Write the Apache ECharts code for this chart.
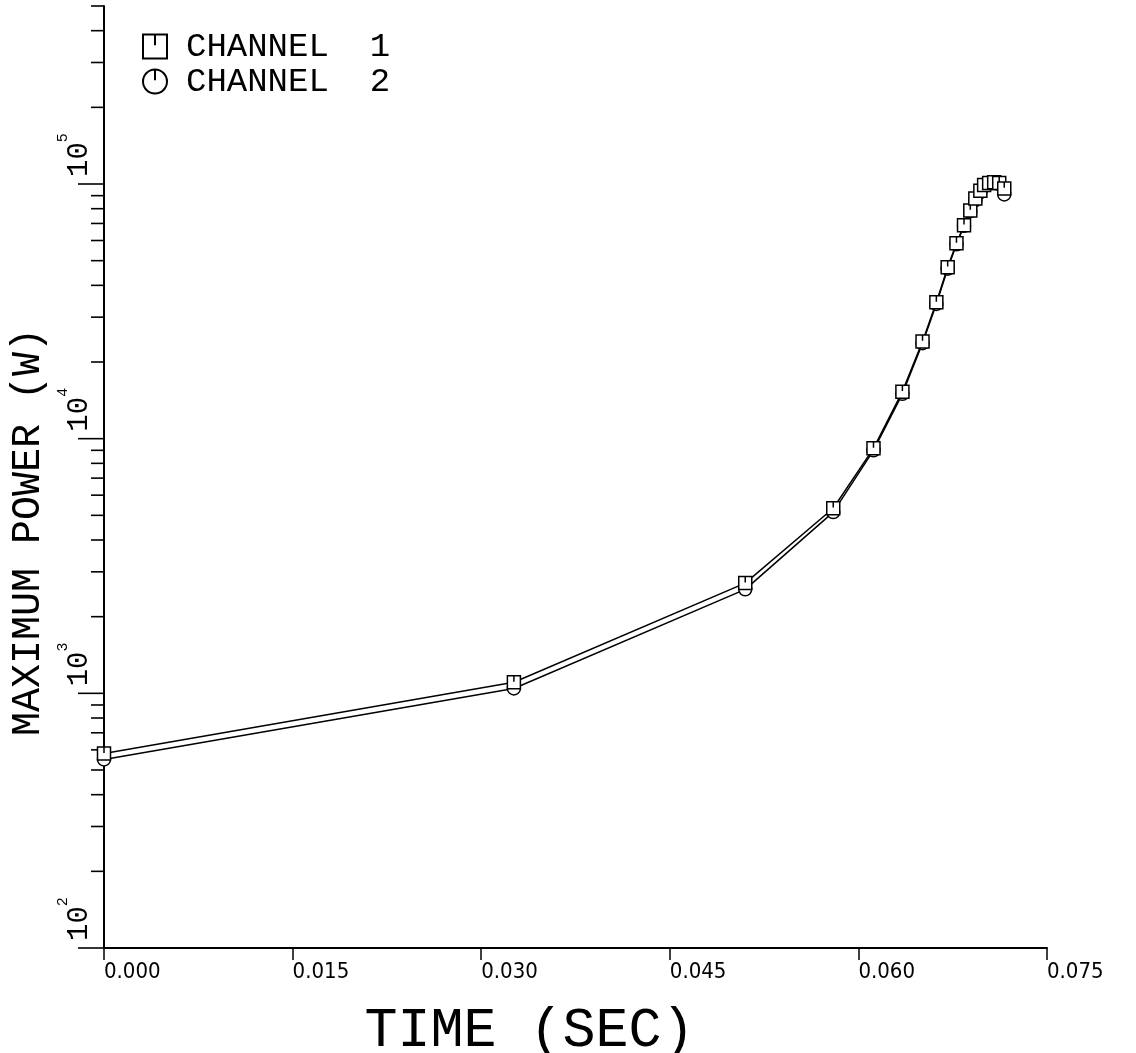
<!DOCTYPE html>
<html><head><meta charset="utf-8">
<script src="https://cdn.jsdelivr.net/npm/echarts@6/dist/echarts.min.js"></script>
<style>html,body{margin:0;padding:0;background:#fff}#c{width:1136px;height:1053px}</style>
</head><body><div id="c"></div>
<script>
// ---- data ----
const timeSec = [0, 0.0326, 0.0510, 0.0580, 0.0612, 0.0635, 0.0651, 0.0662, 0.0671, 0.0678, 0.0684, 0.0689, 0.0693, 0.0697, 0.0700, 0.0704, 0.0708, 0.0712, 0.0716];
const channel1 = [580, 1105, 2710, 5330, 9160, 15300, 24100, 34300, 47100, 58500, 68900, 78700, 87700, 94000, 99000, 101000, 101500, 101000, 96000];
const channel2 = [550, 1045, 2560, 5150, 9000, 15000, 23700, 33800, 46500, 58000, 68500, 78300, 86500, 93000, 98000, 100500, 101000, 100000, 91000];
const seriesNames = ['CHANNEL  1', 'CHANNEL  2'];
const xTickStep = 0.015;
const yMajorTicks = [100, 1000, 10000, 100000];
const yMinorTicks = [200, 300, 400, 500, 600, 700, 800, 900,
  2000, 3000, 4000, 5000, 6000, 7000, 8000, 9000,
  20000, 30000, 40000, 50000, 60000, 70000, 80000, 90000,
  200000, 300000, 400000, 500000];
const xTitle = 'TIME (SEC)';
const yTitle = 'MAXIMUM POWER (W)';

const SQUARE = 'path://M0,0 L10,0 L10,10 L0,10 Z M5,0 L5,4.5';
const CIRCLE = 'path://M5,0 C7.76,0 10,2.24 10,5 C10,7.76 7.76,10 5,10 C2.24,10 0,7.76 0,5 C0,2.24 2.24,0 5,0 Z M5,0 L5,4.5';
const MONO = "'Liberation Mono', 'DejaVu Sans Mono', monospace";
const NARROW = "'Liberation Sans Narrow', 'DejaVu Sans Condensed', sans-serif";

function pairs(xs, ys) { return xs.map((x, i) => [x, ys[i]]); }
function tickRenderer(len) {
  return function (params, api) {
    const p = api.coord([api.value(0), api.value(1)]);
    return { type: 'line', shape: { x1: p[0] - len, y1: p[1], x2: p[0], y2: p[1] },
      style: { stroke: '#000', lineWidth: 1.6 } };
  };
}

const chart = echarts.init(document.getElementById('c'), null, { renderer: 'canvas' });
chart.setOption({
  animation: false,
  backgroundColor: '#fff',
  grid: { left: 104, right: 89, top: 6, bottom: 105, containLabel: false, outerBoundsMode: 'none' },
  legend: {
    orient: 'vertical', left: 137, top: 24, itemWidth: 24, itemHeight: 24, itemGap: 0,
    data: [{ name: seriesNames[0], icon: SQUARE }, { name: seriesNames[1], icon: CIRCLE }],
    textStyle: { fontFamily: MONO, fontSize: 34, lineHeight: 35, color: '#000', padding: [0, 0, 0, 14] },
    selectedMode: false
  },
  xAxis: {
    type: 'value', min: 0, max: 0.075, interval: xTickStep,
    name: xTitle, nameLocation: 'middle', nameGap: 56,
    nameTextStyle: { fontFamily: MONO, fontSize: 55, color: '#000', padding: [0, 92, 0, 0] },
    axisLine: { lineStyle: { color: '#000', width: 2 } },
    axisTick: { show: true, inside: false, length: 12, lineStyle: { color: '#000', width: 1.5 } },
    axisLabel: { margin: 13, align: 'left', fontFamily: NARROW, fontSize: 22, color: '#000',
      formatter: v => v.toFixed(3) },
    splitLine: { show: false }
  },
  yAxis: {
    type: 'log', logBase: 10, min: 100, max: 500000,
    name: yTitle, nameLocation: 'middle', nameRotate: 90, nameGap: 46,
    nameTextStyle: { fontFamily: MONO, fontSize: 40, color: '#000', padding: [0, 110, 0, 0] },
    axisLine: { lineStyle: { color: '#000', width: 2 } },
    axisTick: { show: false },
    axisLabel: {
      rotate: 90, margin: 10, align: 'left', verticalAlign: 'bottom', showMaxLabel: false,
      padding: [0, 0, 0, 7],
      formatter: v => {
        const l = Math.log10(v), e = Math.round(l);
        if (Math.abs(l - e) > 1e-6) return '';
        return '{b|10}{e|' + e + '}';
      },
      rich: {
        b: { fontFamily: MONO, fontSize: 29, color: '#000', lineHeight: 24, verticalAlign: 'bottom' },
        e: { fontFamily: MONO, fontSize: 15, color: '#000', lineHeight: 38, verticalAlign: 'top' }
      }
    },
    splitLine: { show: false }
  },
  series: [
    { type: 'custom', name: 'majorTicks', silent: true, clip: false,
      renderItem: tickRenderer(26), data: yMajorTicks.map(v => [0, v]) },
    { type: 'custom', name: 'minorTicks', silent: true, clip: false,
      renderItem: tickRenderer(13), data: yMinorTicks.map(v => [0, v]) },
    { type: 'line', name: seriesNames[1], data: pairs(timeSec, channel2),
      symbol: CIRCLE, symbolSize: 13, showAllSymbol: true, z: 3,
      lineStyle: { color: '#000', width: 1.5 },
      itemStyle: { color: '#fff', borderColor: '#000', borderWidth: 1.5 } },
    { type: 'line', name: seriesNames[0], data: pairs(timeSec, channel1),
      symbol: SQUARE, symbolSize: 13, showAllSymbol: true, z: 4,
      lineStyle: { color: '#000', width: 1.5 },
      itemStyle: { color: '#fff', borderColor: '#000', borderWidth: 1.5 } }
  ]
});
</script>
</body></html>
